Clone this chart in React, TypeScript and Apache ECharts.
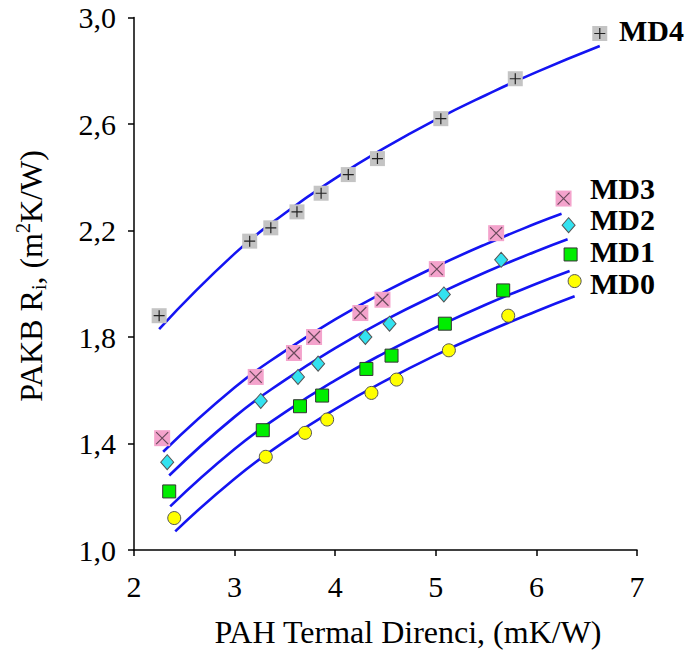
import React, { useEffect, useRef } from "react";
import * as echarts from "echarts";

// ---- measured points ----
const md4X = [2.25, 3.15, 3.36, 3.62, 3.86, 4.13, 4.42, 5.05, 5.79, 6.63];
const md4Y = [1.88, 2.16, 2.21, 2.27, 2.34, 2.41, 2.47, 2.62, 2.77, 2.94];
const md3X = [2.28, 3.21, 3.59, 3.79, 4.25, 4.47, 5.01, 5.6, 6.27];
const md3Y = [1.42, 1.65, 1.74, 1.8, 1.89, 1.94, 2.055, 2.19, 2.32];
const md2X = [2.33, 3.26, 3.63, 3.83, 4.3, 4.54, 5.08, 5.65, 6.32];
const md2Y = [1.33, 1.56, 1.65, 1.7, 1.8, 1.85, 1.96, 2.09, 2.22];
const md1X = [2.35, 3.28, 3.65, 3.87, 4.31, 4.56, 5.09, 5.67, 6.34];
const md1Y = [1.22, 1.45, 1.54, 1.58, 1.68, 1.73, 1.85, 1.975, 2.11];
const md0X = [2.4, 3.31, 3.7, 3.92, 4.36, 4.61, 5.13, 5.72, 6.38];
const md0Y = [1.12, 1.35, 1.44, 1.49, 1.59, 1.64, 1.75, 1.88, 2.01];

// ---- fitted curves ----
const md4FitX = [2.25, 3, 3.5, 4, 4.5, 5, 5.5, 6, 6.63];
const md4FitY = [1.83, 2.113, 2.265, 2.396, 2.512, 2.616, 2.709, 2.795, 2.893];
const md3FitX = [2.29, 3, 3.5, 4, 4.5, 5, 5.5, 6, 6.25];
const md3FitY = [1.369, 1.61, 1.747, 1.866, 1.971, 2.064, 2.149, 2.227, 2.263];
const md2FitX = [2.35, 3, 3.5, 4, 4.5, 5, 5.5, 6, 6.31];
const md2FitY = [1.28, 1.5, 1.638, 1.758, 1.864, 1.958, 2.044, 2.122, 2.167];
const md1FitX = [2.36, 3, 3.5, 4, 4.5, 5, 5.5, 6, 6.33];
const md1FitY = [1.164, 1.379, 1.517, 1.637, 1.742, 1.836, 1.922, 2.0, 2.048];
const md0FitX = [2.41, 3, 3.5, 4, 4.5, 5, 5.5, 6, 6.38];
const md0FitY = [1.07, 1.268, 1.408, 1.529, 1.636, 1.732, 1.818, 1.897, 1.953];

const seriesNames = ["MD4", "MD3", "MD2", "MD1", "MD0"];
const xTitle = "PAH Termal Direnci, (mK/W)";

const zip = (xs: number[], ys: number[]) => xs.map((x, i) => [x, ys[i]]);

const FONT = "'Liberation Serif', 'Times New Roman', serif";
const LINE_COLOR = "#1414f2";
const PLUS = "path://M5,0 L5,10 M0,5 L10,5";
const CROSS = "path://M0,0 L10,10 M10,0 L0,10";

export default function App() {
  const ref = useRef<HTMLDivElement>(null);

  useEffect(() => {
    if (!ref.current) return;
    const chart = echarts.init(ref.current, null, { renderer: "svg" });

    const fitLine = (xs: number[], ys: number[]) => ({
      type: "line",
      data: zip(xs, ys),
      smooth: true,
      showSymbol: false,
      symbol: "none",
      lineStyle: { color: LINE_COLOR, width: 2.6 },
      z: 2,
    });

    const scatter = (
      data: number[][],
      symbol: string,
      size: number | number[],
      color: string,
      borderColor: string,
      borderWidth: number,
      z: number
    ) => ({
      type: "scatter",
      data,
      symbol,
      symbolSize: size,
      itemStyle: { color, borderColor, borderWidth, opacity: 1 },
      z,
    });

    const option = {
      animation: false,
      grid: { left: 134, right: 53, top: 17.5, bottom: 105, containLabel: false },
      xAxis: {
        type: "value",
        min: 2,
        max: 7,
        interval: 1,
        axisLine: { show: true, onZero: false, lineStyle: { color: "#000", width: 1.5 } },
        axisTick: { show: true, inside: false, length: 6, lineStyle: { color: "#000", width: 1.5 } },
        axisLabel: { fontFamily: FONT, fontSize: 30, color: "#000", margin: 21 },
        splitLine: { show: false },
      },
      yAxis: {
        type: "value",
        min: 1,
        max: 3,
        interval: 0.4,
        axisLine: { show: true, onZero: false, lineStyle: { color: "#000", width: 1.5 } },
        axisTick: { show: true, inside: false, length: 6, lineStyle: { color: "#000", width: 1.5 } },
        axisLabel: {
          fontFamily: FONT,
          fontSize: 30,
          color: "#000",
          margin: 18,
          formatter: (v: number) => v.toFixed(1).replace(".", ","),
        },
        splitLine: { show: false },
      },
      graphic: [
        {
          type: "text",
          x: 408,
          y: 632,
          style: {
            text: xTitle,
            font: `32px ${FONT}`,
            fill: "#000",
            textAlign: "center",
            textVerticalAlign: "middle",
          },
        },
        {
          type: "text",
          x: 31,
          y: 276,
          rotation: Math.PI / 2,
          style: {
            text: "{a|PAKB R}{b|i}{a|, (m}{c|2}{a|K/W)}",
            fill: "#000",
            textAlign: "center",
            textVerticalAlign: "middle",
            rich: {
              a: { fontFamily: FONT, fontSize: 32, lineHeight: 36, verticalAlign: "middle", fill: "#000" },
              b: { fontFamily: FONT, fontSize: 20, lineHeight: 20, verticalAlign: "bottom", fill: "#000" },
              c: { fontFamily: FONT, fontSize: 20, lineHeight: 20, verticalAlign: "top", fill: "#000" },
            },
          },
        },
        ...seriesNames.map((name, i) => ({
          type: "text",
          x: i === 0 ? 619 : 590,
          y: [30, 188, 219, 251, 283][i],
          style: {
            text: name,
            font: `bold 30px ${FONT}`,
            lineHeight: 27,
            fill: "#000",
            textAlign: "left",
            textVerticalAlign: "middle",
          },
        })),
      ],
      series: [
        fitLine(md4FitX, md4FitY),
        fitLine(md3FitX, md3FitY),
        fitLine(md2FitX, md2FitY),
        fitLine(md1FitX, md1FitY),
        fitLine(md0FitX, md0FitY),
        scatter(zip(md4X, md4Y), "rect", 15, "#c4c4c4", "#c4c4c4", 0, 3),
        scatter(zip(md4X, md4Y), PLUS, 11, "none", "#222", 1.2, 4),
        scatter(zip(md3X, md3Y), "rect", 16, "#f4a3cc", "#f4a3cc", 0, 3),
        scatter(zip(md3X, md3Y), CROSS, 12, "none", "#6a4a5c", 1.2, 4),
        scatter(zip(md2X, md2Y), "diamond", [13, 15], "#33e2f0", "#555", 1, 3),
        scatter(zip(md1X, md1Y), "rect", 13, "#00ee00", "#333", 1, 3),
        scatter(zip(md0X, md0Y), "circle", 13, "#ffff00", "#555", 1, 3),
      ],
    };

    chart.setOption(option as any);
    return () => chart.dispose();
  }, []);

  return (
    <div
      ref={ref}
      style={{ position: "absolute", left: 0, top: 0, width: 690, height: 655, background: "#fff" }}
    />
  );
}
